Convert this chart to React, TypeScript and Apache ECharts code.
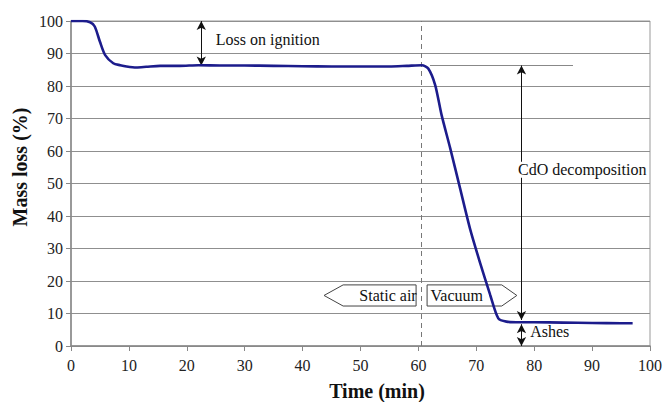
import React, { useEffect, useRef } from "react";
import * as echarts from "echarts";

const time = [0, 2, 3.3, 4.1, 5.0, 5.9, 7.3, 8.5, 9.6, 11.3, 13, 15.4, 18.8, 22, 26, 30, 35, 40, 45, 50, 55, 58, 60.6, 61.7, 62.9, 64.0, 65.5, 67.2, 68.9, 70.6, 72.4, 73.8, 75.2, 77.5, 80, 85, 90, 95, 97];
const mass = [100, 100, 99.6, 98.3, 93.6, 89.5, 87.0, 86.4, 86.0, 85.7, 85.9, 86.2, 86.2, 86.4, 86.3, 86.3, 86.2, 86.1, 86.0, 86.0, 86.0, 86.2, 86.4, 85.4, 80.3, 71.1, 60.8, 48.5, 36.2, 25.9, 15.7, 8.5, 7.5, 7.3, 7.3, 7.2, 7.1, 7.0, 7.0];

const xTicks = [0, 10, 20, 30, 40, 50, 60, 70, 80, 90, 100];
const yTicks = [0, 10, 20, 30, 40, 50, 60, 70, 80, 90, 100];

const switchTime = 60.5;
const lossLevel = 86.3;
const ashLevel = 7.5;
const lossArrowX = 22.5;
const cdoArrowX = 77.8;

const FONT = "Liberation Serif";

export default function App() {
  const ref = useRef<HTMLDivElement>(null);
  useEffect(() => {
    if (!ref.current) return;
    const chart = echarts.init(ref.current, null, { renderer: "svg" });
    const arrowStyle = { color: "#111", width: 1, type: "solid" as const };
    chart.setOption({
      animation: false,
      textStyle: { fontFamily: FONT },
      grid: { left: 71, right: 17, top: 21, bottom: 56, show: true, borderColor: "#999", borderWidth: 1 },
      xAxis: {
        type: "value",
        min: xTicks[0],
        max: xTicks[xTicks.length - 1],
        interval: 10,
        axisLine: { show: true, lineStyle: { color: "#888", width: 1.5 } },
        axisTick: { show: true, length: 5, lineStyle: { color: "#888" } },
        axisLabel: { color: "#222", fontFamily: FONT, fontSize: 16, margin: 11 },
        splitLine: { show: false },
      },
      yAxis: {
        type: "value",
        min: yTicks[0],
        max: yTicks[yTicks.length - 1],
        interval: 10,
        axisLine: { show: true, lineStyle: { color: "#888", width: 1.5 } },
        axisTick: { show: true, length: 5, lineStyle: { color: "#888" } },
        axisLabel: { color: "#222", fontFamily: FONT, fontSize: 16, margin: 8 },
        splitLine: { show: true, lineStyle: { color: "#8f8f8f", width: 1 } },
      },
      series: [
        {
          type: "line",
          data: time.map((t, i) => [t, mass[i]]),
          showSymbol: false,
          smooth: 0.25,
          z: 5,
          lineStyle: { color: "#1c1c8c", width: 2.6 },
          markLine: {
            silent: true,
            label: { show: false },
            symbolSize: [7, 9],
            data: [
              [
                { coord: [switchTime, 0], symbol: "none", lineStyle: { color: "#777", width: 1, type: [5, 4] } },
                { coord: [switchTime, 100], symbol: "none" },
              ],
              [
                { coord: [62, lossLevel], symbol: "none", lineStyle: { color: "#888", width: 1, type: "solid" } },
                { coord: [86.7, lossLevel], symbol: "none" },
              ],
              [
                { coord: [lossArrowX, 100], symbol: "arrow", lineStyle: arrowStyle },
                { coord: [lossArrowX, lossLevel], symbol: "arrow" },
              ],
              [
                { coord: [cdoArrowX, lossLevel], symbol: "arrow", lineStyle: arrowStyle },
                { coord: [cdoArrowX, ashLevel + 0.5], symbol: "arrow" },
              ],
              [
                { coord: [cdoArrowX, ashLevel - 0.8], symbol: "arrow", lineStyle: arrowStyle },
                { coord: [cdoArrowX, 0], symbol: "arrow" },
              ],
            ],
          },
        },
      ],
    });

    const px = (x: number, y: number) => chart.convertToPixel({ gridIndex: 0 }, [x, y]) as number[];
    const poly = (pts: number[][]) => pts.map((p) => px(p[0], p[1]));
    const boxStyle = { fill: "#fff", stroke: "#444", lineWidth: 1 };
    const txt = (x: number, y: number, text: string, extra: any = {}) => {
      const p = px(x, y);
      return {
        type: "text",
        x: p[0],
        y: p[1],
        z: 10,
        style: { text, fill: "#111", fontFamily: FONT, fontSize: 16, textAlign: "left", textVerticalAlign: "middle", ...extra },
      };
    };

    chart.setOption({
      graphic: [
        { type: "polygon", z: 1, shape: { points: poly([[43.7, 15.55], [47.0, 18.8], [59.6, 18.8], [59.6, 12.3], [47.0, 12.3]]) }, style: boxStyle },
        { type: "polygon", z: 1, shape: { points: poly([[61.5, 18.8], [74.4, 18.8], [77.0, 15.55], [74.4, 12.3], [61.5, 12.3]]) }, style: boxStyle },
        txt(49.8, 15.6, "Static air"),
        txt(62.1, 15.6, "Vacuum"),
        txt(25.0, 94.2, "Loss on ignition"),
        txt(77.2, 54.2, "CdO decomposition", { backgroundColor: "#fff" }),
        txt(79.3, 4.4, "Ashes"),
        {
          type: "text",
          x: 20,
          y: 167,
          rotation: Math.PI / 2,
          style: { text: "Mass loss (%)", fill: "#111", fontFamily: FONT, fontSize: 20, fontWeight: "bold", textAlign: "center", textVerticalAlign: "middle" },
        },
        {
          type: "text",
          x: 377,
          y: 391,
          style: { text: "Time (min)", fill: "#111", fontFamily: FONT, fontSize: 20, fontWeight: "bold", textAlign: "center", textVerticalAlign: "middle" },
        },
      ],
    });

    return () => chart.dispose();
  }, []);
  return <div ref={ref} style={{ width: 667, height: 402, position: "absolute", left: 0, top: 0 }} />;
}
